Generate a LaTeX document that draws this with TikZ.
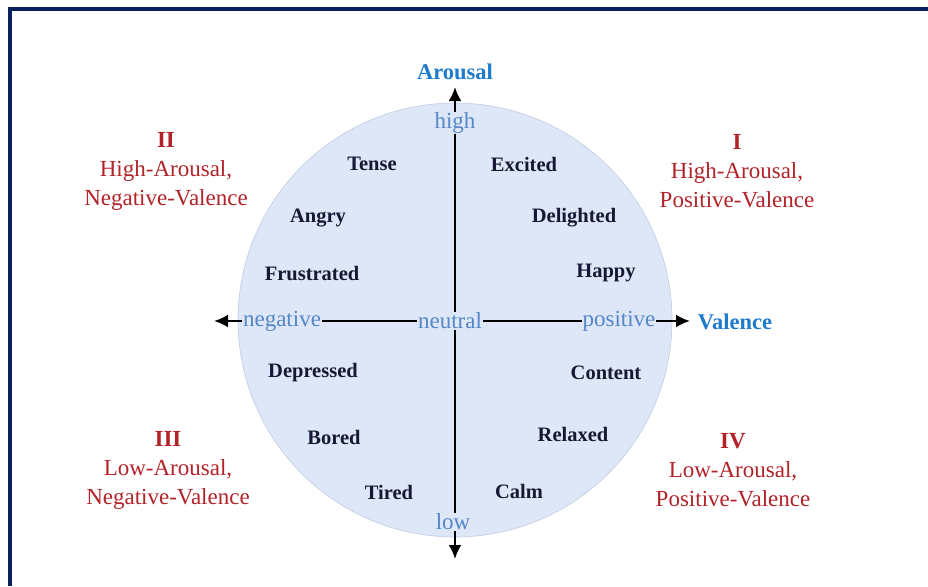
\documentclass[tikz,border=0pt]{standalone}
\usepackage{fontspec}
\setmainfont{Liberation Serif}
\usetikzlibrary{arrows.meta,positioning}

\definecolor{framenavy}{RGB}{10,33,96}
\definecolor{discfill}{RGB}{221,231,247}
\definecolor{discedge}{RGB}{192,205,226}
\definecolor{axisblue}{RGB}{30,122,204}
\definecolor{poleblue}{RGB}{84,134,200}
\definecolor{quadred}{RGB}{178,34,40}
\definecolor{moodink}{RGB}{22,24,52}

\tikzset{
  axisline/.style={line width=2.4pt, {Latex[length=14pt,width=13pt]}-{Latex[length=14pt,width=13pt]}},
  pole/.style={text=poleblue, fill=discfill, inner sep=1pt, font=\fontsize{23}{26}\selectfont},
  axisname/.style={text=axisblue, font=\bfseries\fontsize{22.5}{26}\selectfont},
  mood/.style={text=moodink, font=\bfseries\fontsize{20.5}{24}\selectfont},
  quadrant/.style={text=quadred, align=center, font=\fontsize{23}{29}\selectfont},
}

\begin{document}
\begin{tikzpicture}[x=1pt,y=-1pt]
  \useasboundingbox (0,0) rectangle (928,586);
  % Frame
  \draw[framenavy, line width=4pt] (10,586) -- (10,9) -- (928,9);
  % Disc
  \filldraw[fill=discfill, draw=discedge, line width=0.6pt] (455,320) circle (217pt);
  % Axes
  \coordinate (vtop) at (455,87);
  \coordinate (vbot) at (455,559);
  \coordinate (hleft) at (214,321);
  \coordinate (hright) at (690,321);
  \draw[axisline] (vbot) -- (vtop);
  \draw[axisline] (hleft) -- (hright);
  % Axis names and poles
  \node[axisname] (arousal) at (455,72) {Arousal};
  \node[axisname] (valence) at (735,322) {Valence};
  \node[pole] (high) at (455,123) {high};
  \node[pole] (low) at (453,522) {low};
  \node[pole] (negative) at (282,321) {negative};
  \node[pole] (neutral) at (450,321) {neutral};
  \node[pole] (positive) at (619,321) {positive};
  % Moods
  \node[mood] (tense) at (372,164) {Tense};
  \node[mood] (excited) at (524,164) {Excited};
  \node[mood] (angry) at (318,218) {Angry};
  \node[mood] (delighted) at (574,218) {Delighted};
  \node[mood] (frustrated) at (312,274) {Frustrated};
  \node[mood] (happy) at (606,273) {Happy};
  \node[mood] (depressed) at (313,373) {Depressed};
  \node[mood] (content) at (606,373) {Content};
  \node[mood] (bored) at (334,437) {Bored};
  \node[mood] (relaxed) at (573,434) {Relaxed};
  \node[mood] (tired) at (389,492) {Tired};
  \node[mood] (calm) at (519,491) {Calm};
  % Quadrants
  \node[quadrant] (quadI) at (737,171) {\textbf{I}\\High-Arousal,\\Positive-Valence};
  \node[quadrant] (quadII) at (166,171) {\textbf{II}\\High-Arousal,\\Negative-Valence};
  \node[quadrant] (quadIII) at (168,470) {\textbf{III}\\Low-Arousal,\\Negative-Valence};
  \node[quadrant] (quadIV) at (733,470) {\textbf{IV}\\Low-Arousal,\\Positive-Valence};
\end{tikzpicture}
\end{document}
